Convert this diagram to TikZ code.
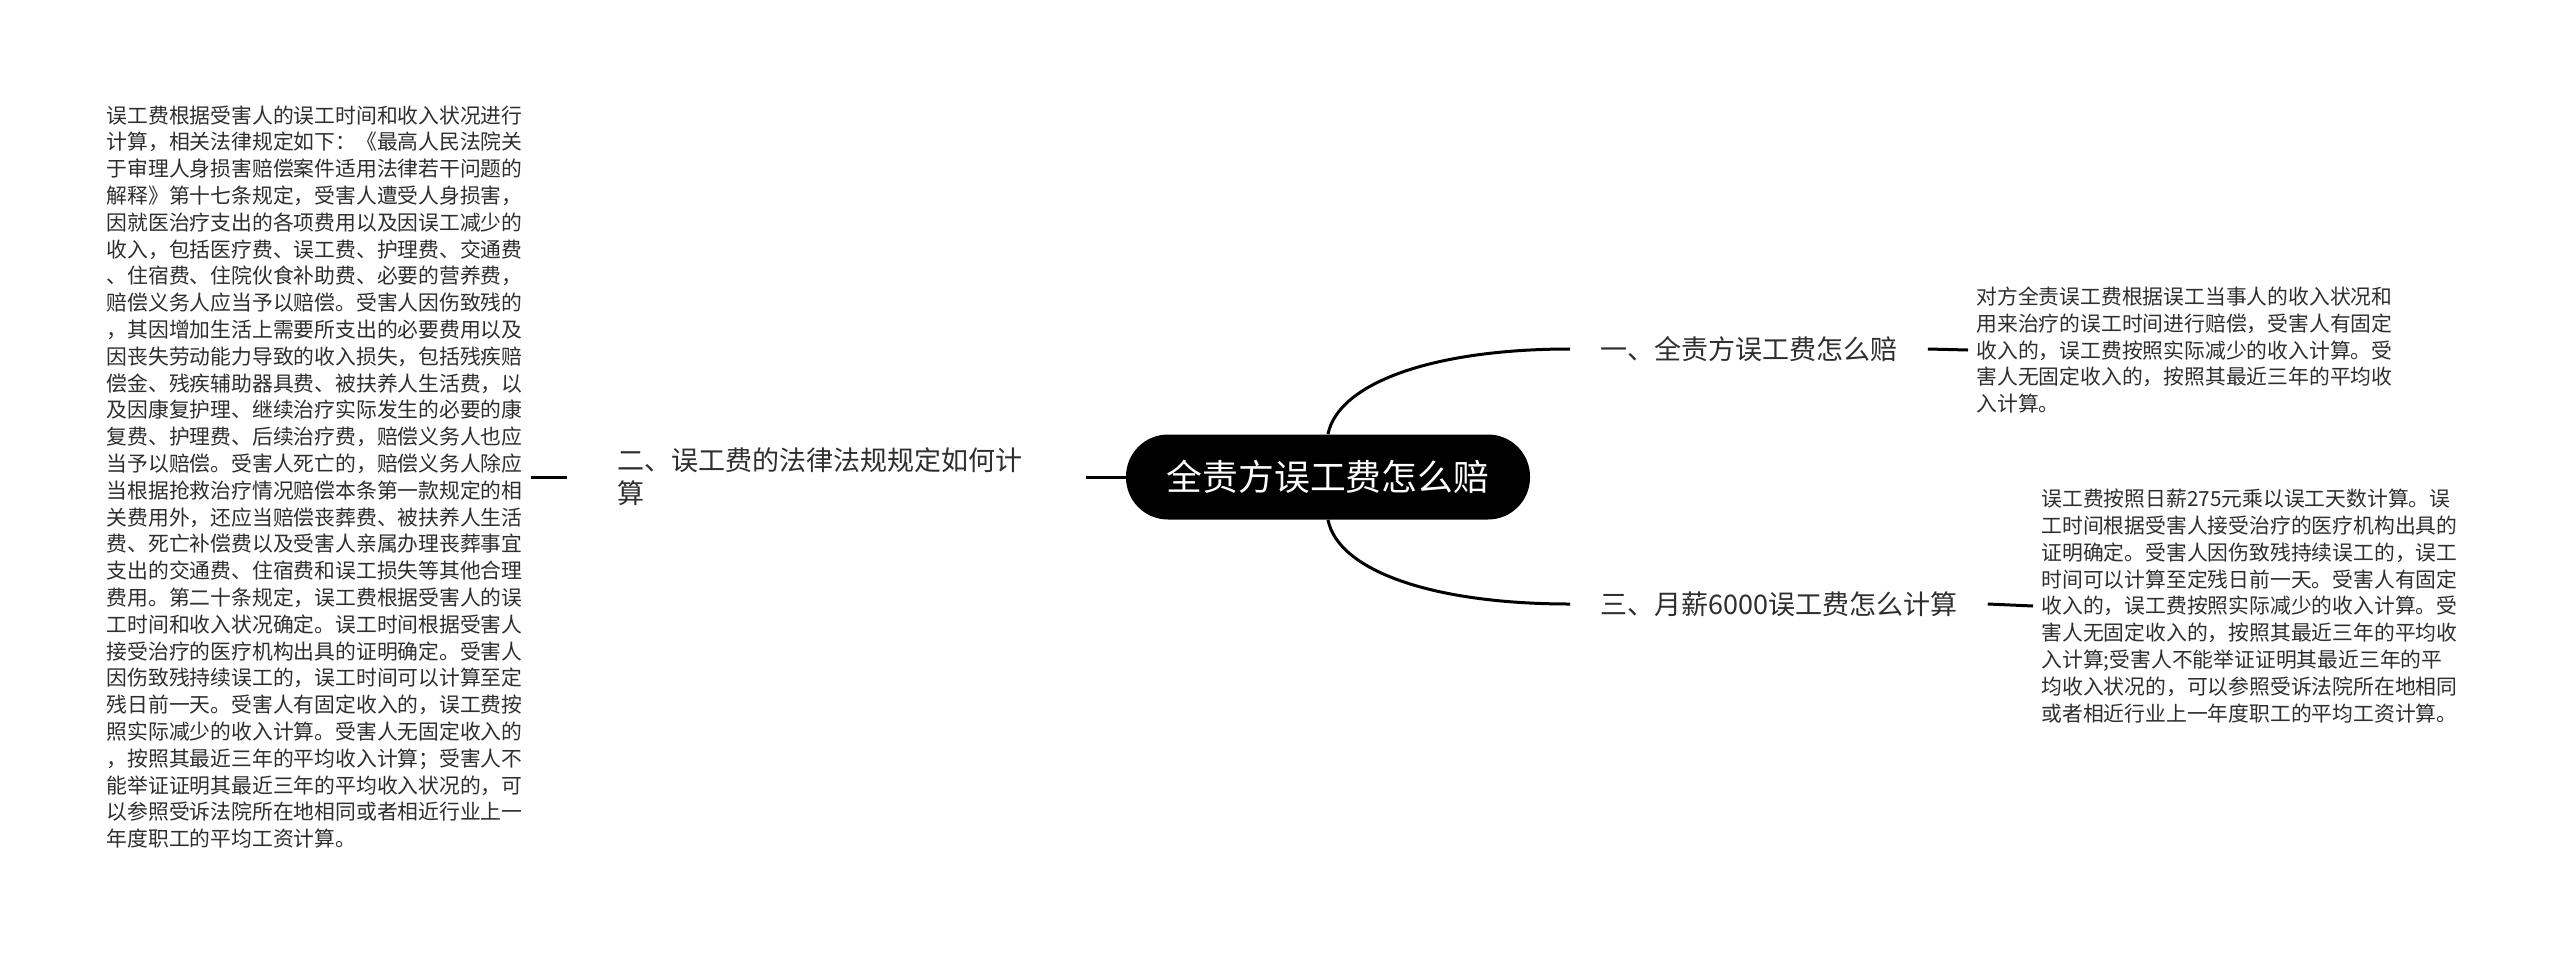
\documentclass[tikz,border=0pt]{standalone}
\usepackage{fontspec}
\newfontfamily\cjk{Noto Sans CJK SC}
\definecolor{inkgray}{HTML}{2E2E2E}

\begin{document}
\begin{tikzpicture}[x=0.5pt,y=-0.5pt,
        rootnode/.style={fill=black,text=white,rounded corners=21pt,minimum width=202pt,minimum height=42.5pt,inner sep=0pt,font=\cjk\fontsize{17.9}{22}\selectfont},
        topicnode/.style={text=inkgray,inner xsep=15pt,align=left,font=\cjk\fontsize{13.5}{16.5}\selectfont},
        leafnode/.style={text=inkgray,inner xsep=4pt,align=left,font=\cjk\fontsize{10.4}{13.4}\selectfont},
        link/.style={line width=1.5pt}]
    \useasboundingbox (0,0) rectangle (2560,954);

    \node[rootnode] (root) at(1328,477) {全责方误工费怎么赔};

    \node[topicnode,anchor=west] (one) at(1570,349) {一、全责方误工费怎么赔};
    \node[topicnode,anchor=west] (three) at(1570,604) {三、月薪6000误工费怎么计算};
    \node[topicnode,anchor=east,inner xsep=25pt,text width=209pt] (two) at(1086,477)
        {二、误工费的法律法规规定如何计\\算};

    \node[leafnode,anchor=west] (onetxt) at(1968,350) {对方全责误工费根据误工当事人的收入状况和\\
        用来治疗的误工时间进行赔偿，受害人有固定\\
        收入的，误工费按照实际减少的收入计算。受\\
        害人无固定收入的，按照其最近三年的平均收\\
        入计算。};

    \node[leafnode,anchor=west] (threetxt) at(2033,606) {误工费按照日薪275元乘以误工天数计算。误\\
        工时间根据受害人接受治疗的医疗机构出具的\\
        证明确定。受害人因伤致残持续误工的，误工\\
        时间可以计算至定残日前一天。受害人有固定\\
        收入的，误工费按照实际减少的收入计算。受\\
        害人无固定收入的，按照其最近三年的平均收\\
        入计算;受害人不能举证证明其最近三年的平\\
        均收入状况的，可以参照受诉法院所在地相同\\
        或者相近行业上一年度职工的平均工资计算。};

    \node[leafnode,anchor=east] (twotxt) at(531,477) {误工费根据受害人的误工时间和收入状况进行\\
        计算，相关法律规定如下：《最高人民法院关\\
        于审理人身损害赔偿案件适用法律若干问题的\\
        解释》第十七条规定，受害人遭受人身损害，\\
        因就医治疗支出的各项费用以及因误工减少的\\
        收入，包括医疗费、误工费、护理费、交通费\\
        、住宿费、住院伙食补助费、必要的营养费，\\
        赔偿义务人应当予以赔偿。受害人因伤致残的\\
        ，其因增加生活上需要所支出的必要费用以及\\
        因丧失劳动能力导致的收入损失，包括残疾赔\\
        偿金、残疾辅助器具费、被扶养人生活费，以\\
        及因康复护理、继续治疗实际发生的必要的康\\
        复费、护理费、后续治疗费，赔偿义务人也应\\
        当予以赔偿。受害人死亡的，赔偿义务人除应\\
        当根据抢救治疗情况赔偿本条第一款规定的相\\
        关费用外，还应当赔偿丧葬费、被扶养人生活\\
        费、死亡补偿费以及受害人亲属办理丧葬事宜\\
        支出的交通费、住宿费和误工损失等其他合理\\
        费用。第二十条规定，误工费根据受害人的误\\
        工时间和收入状况确定。误工时间根据受害人\\
        接受治疗的医疗机构出具的证明确定。受害人\\
        因伤致残持续误工的，误工时间可以计算至定\\
        残日前一天。受害人有固定收入的，误工费按\\
        照实际减少的收入计算。受害人无固定收入的\\
        ，按照其最近三年的平均收入计算；受害人不\\
        能举证证明其最近三年的平均收入状况的，可\\
        以参照受诉法院所在地相同或者相近行业上一\\
        年度职工的平均工资计算。};

    \draw[link] (root.north) .. controls +(10,-50) and +(-140,0) .. (one.west);
    \draw[link] (root.south) .. controls +(10,50) and +(-140,0) .. (three.west);
    \draw[link] (root.west) -- (two.east);
    \draw[link] (one.east) -- (onetxt.west);
    \draw[link] (three.east) -- (threetxt.west);
    \draw[link] (two.west) -- (twotxt.east);
\end{tikzpicture}
\end{document}
